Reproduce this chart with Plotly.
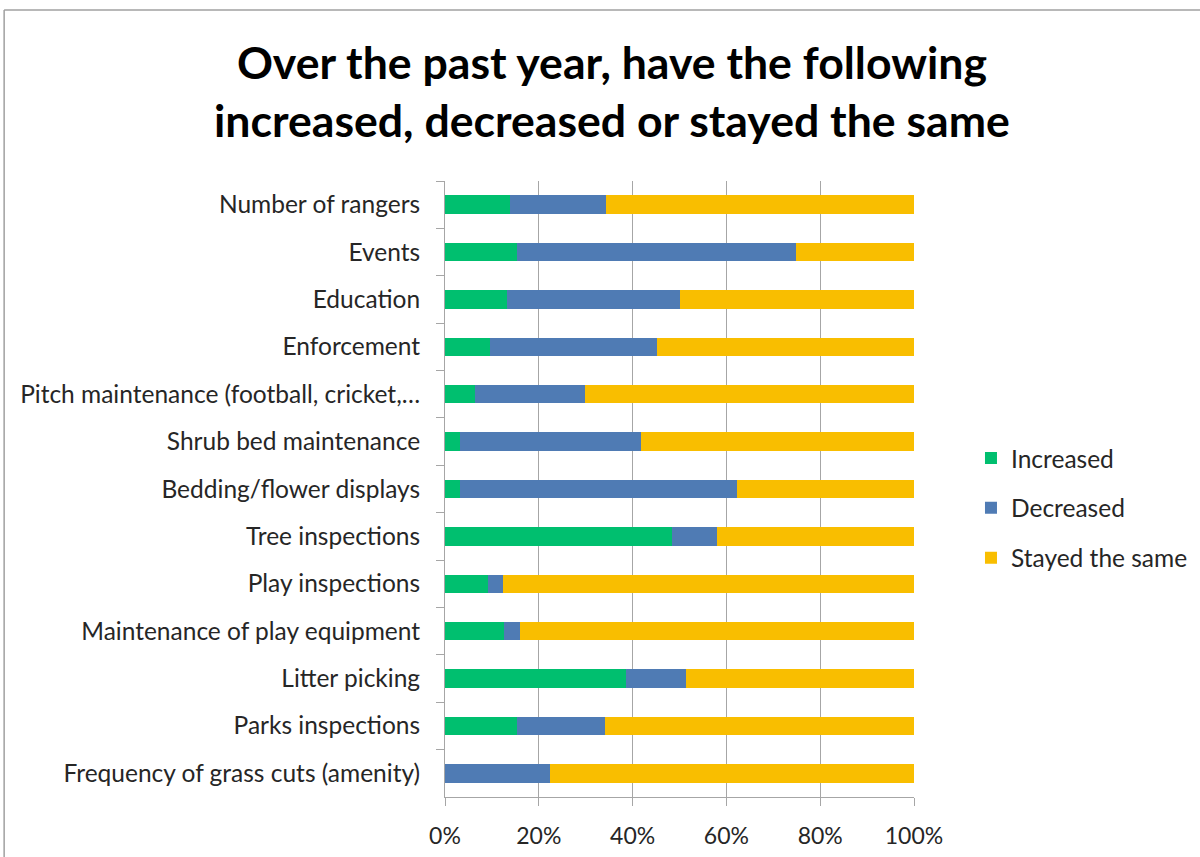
import plotly.graph_objects as go

# Survey items, listed top to bottom
categories = [
    "Number of rangers",
    "Events",
    "Education",
    "Enforcement",
    "Pitch maintenance (football, cricket,…",
    "Shrub bed maintenance",
    "Bedding/flower displays",
    "Tree inspections",
    "Play inspections",
    "Maintenance of play equipment",
    "Litter picking",
    "Parks inspections",
    "Frequency of grass cuts (amenity)",
]

# Share of responses (%) per answer
increased = [13.8, 15.4, 13.2, 9.6, 6.4, 3.1, 3.1, 48.4, 9.1, 12.6, 38.6, 15.4, 0.0]
decreased = [20.6, 59.5, 36.8, 35.5, 23.4, 38.7, 59.1, 9.6, 3.3, 3.3, 12.7, 18.8, 22.4]
stayed_same = [round(100 - a - b, 1) for a, b in zip(increased, decreased)]

series = [
    ("Increased", increased, "#00BF6F"),
    ("Decreased", decreased, "#4F7BB4"),
    ("Stayed the same", stayed_same, "#F9BE00"),
]

x_ticks = [0, 20, 40, 60, 80, 100]
x_tick_labels = ["0%", "20%", "40%", "60%", "80%", "100%"]

font_family = "Lato, 'Open Sans', sans-serif"
text_color = "#262626"

fig = go.Figure()
for name, vals, color in series:
    fig.add_trace(go.Bar(
        y=categories,
        x=vals,
        name=name,
        orientation="h",
        marker=dict(color=color, line=dict(width=0)),
        legendgroup=name,
        hoverinfo="x+y+name",
    ))

fig.update_layout(
    width=1200,
    height=857,
    barmode="stack",
    bargap=0.61,
    plot_bgcolor="white",
    paper_bgcolor="white",
    margin=dict(l=445, r=286, t=181, b=60, autoexpand=False),
    font=dict(family=font_family, size=24, color=text_color),
    showlegend=True,
    legend=dict(
        x=1.1215,
        y=0.469,
        xanchor="left",
        yanchor="middle",
        font=dict(size=24.5, color=text_color),
        tracegroupgap=15,
        itemsizing="constant",
        bgcolor="rgba(0,0,0,0)",
    ),
    xaxis=dict(
        range=[0, 100],
        tickvals=x_ticks,
        ticktext=x_tick_labels,
        showgrid=True,
        gridcolor="#A6A6A6",
        gridwidth=1,
        zeroline=False,
        showline=True,
        linecolor="#A6A6A6",
        ticks="outside",
        ticklen=8,
        tickcolor="#A6A6A6",
        ticklabelstandoff=10,
        tickfont=dict(size=23, color=text_color),
        automargin=False,
        fixedrange=True,
    ),
    yaxis=dict(
        type="category",
        categoryorder="array",
        categoryarray=categories,
        autorange="reversed",
        showgrid=False,
        showline=True,
        linecolor="#A6A6A6",
        ticks="outside",
        tickson="boundaries",
        ticklen=8,
        tickcolor="#A6A6A6",
        ticklabelstandoff=19,
        tickfont=dict(size=24.5, color=text_color),
        automargin=False,
        fixedrange=True,
    ),
)

# Chart title
fig.add_annotation(
    text="<b>Over the past year, have the following<br>increased, decreased or stayed the same</b>",
    xref="paper", yref="paper",
    x=0.357, y=1.147,
    xanchor="center", yanchor="middle",
    showarrow=False,
    align="center",
    font=dict(family=font_family, size=44.6, color="#000000"),
)

# Outer chart frame (left and top edges)
fig.add_shape(type="line", xref="paper", yref="paper",
              x0=-0.94, x1=-0.94, y0=1.2776, y1=-0.2,
              line=dict(color="#A0A0A0", width=1.5))
fig.add_shape(type="line", xref="paper", yref="paper",
              x0=-0.94, x1=1.7, y0=1.2776, y1=1.2776,
              line=dict(color="#A0A0A0", width=1.5))

fig.write_html("out.html")
